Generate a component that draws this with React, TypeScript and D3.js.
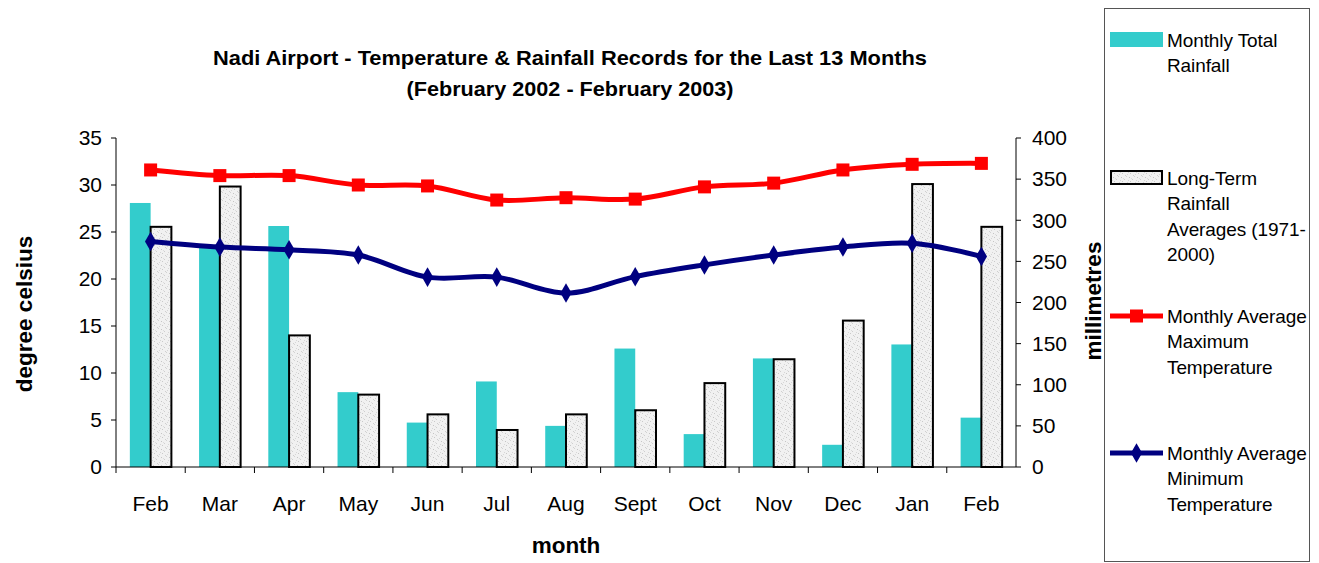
import React from "react";
import * as d3 from "d3";

const months = ["Feb", "Mar", "Apr", "May", "Jun", "Jul", "Aug", "Sept", "Oct", "Nov", "Dec", "Jan", "Feb"];
const monthlyRainfall = [321, 267, 293, 91, 54, 104, 50, 144, 40, 132, 27, 149, 60];
const longTermRainfall = [292, 341, 160, 88, 64, 45, 64, 69, 102, 131, 178, 344, 292];
const maxTemp = [31.6, 31.0, 31.0, 30.0, 29.9, 28.4, 28.65, 28.5, 29.8, 30.2, 31.6, 32.2, 32.3];
const minTemp = [24.0, 23.4, 23.1, 22.55, 20.2, 20.2, 18.5, 20.25, 21.5, 22.55, 23.4, 23.8, 22.4];
const tempTicks = [0, 5, 10, 15, 20, 25, 30, 35];
const rainTicks = [0, 50, 100, 150, 200, 250, 300, 350, 400];

const FONT = "'Liberation Sans', Arial, sans-serif";
const CYAN = "#33CCCC";
const RED = "#FF0000";
const NAVY = "#000080";

const W = 1319;
const H = 563;
const plot = { left: 116, right: 1016, top: 138, bottom: 467 };

export default function App() {
  const idx = months.map((_, i) => String(i));
  const x = d3.scaleBand<string>().domain(idx).range([plot.left, plot.right]).padding(0);
  const yT = d3.scaleLinear().domain([0, 35]).range([plot.bottom, plot.top]);
  const yR = d3.scaleLinear().domain([0, 400]).range([plot.bottom, plot.top]);
  const bw = x.bandwidth();
  const barW = bw * 0.3;
  const cx = (i: number) => (x(String(i)) as number) + bw / 2;

  const line = (vals: number[]) =>
    d3
      .line<number>()
      .x((_, i) => cx(i))
      .y((v) => yT(v))
      .curve(d3.curveCatmullRom.alpha(0))(vals) as string;

  const diamond = d3.symbol().type(d3.symbolDiamond).size(110)() as string;

  const speckles: [number, number, number][] = [
    [1, 1, 0.5], [4, 3, 0.4], [6, 0, 0.35], [2, 5, 0.45], [7, 6, 0.3], [5, 7, 0.4], [0, 4, 0.3], [3, 2, 0.25],
  ];

  const legendItems = [
    { y: 40, lines: ["Monthly Total", "Rainfall"], kind: "cyan" },
    { y: 178, lines: ["Long-Term", "Rainfall", "Averages (1971-", "2000)"], kind: "pattern" },
    { y: 316, lines: ["Monthly Average", "Maximum", "Temperature"], kind: "red" },
    { y: 453, lines: ["Monthly Average", "Minimum", "Temperature"], kind: "navy" },
  ];

  return (
    <svg width={W} height={H} style={{ position: "absolute", left: 0, top: 0, background: "#fff" }} fontFamily={FONT}>
      <defs>
        <pattern id="speck" width="8" height="8" patternUnits="userSpaceOnUse">
          <rect width="8" height="8" fill="#f1f1f1" />
          {speckles.map(([px, py, o], i) => (
            <rect key={i} x={px} y={py} width={1} height={1} fill="#9a9a9a" opacity={o} />
          ))}
        </pattern>
      </defs>
      <rect width={W} height={H} fill="#fff" />

      {/* Title */}
      <text x={570} y={65} textAnchor="middle" fontSize={20.5} fontWeight="bold" textLength={714} lengthAdjust="spacingAndGlyphs">
        Nadi Airport - Temperature &amp; Rainfall Records for the Last 13 Months
      </text>
      <text x={570} y={96} textAnchor="middle" fontSize={20.5} fontWeight="bold" textLength={327} lengthAdjust="spacingAndGlyphs">
        (February 2002 - February 2003)
      </text>

      {/* Bars */}
      {monthlyRainfall.map((v, i) => (
        <rect key={"r" + i} x={cx(i) - barW} y={yR(v)} width={barW} height={plot.bottom - yR(v)} fill={CYAN} />
      ))}
      {longTermRainfall.map((v, i) => (
        <rect
          key={"l" + i}
          x={cx(i)}
          y={yR(v)}
          width={barW}
          height={plot.bottom - yR(v)}
          fill="url(#speck)"
          stroke="#000"
          strokeWidth={2}
        />
      ))}

      {/* Lines */}
      <path d={line(maxTemp)} fill="none" stroke={RED} strokeWidth={5} />
      {maxTemp.map((v, i) => (
        <rect key={"m" + i} x={cx(i) - 6.5} y={yT(v) - 6.5} width={13} height={13} fill={RED} />
      ))}
      <path d={line(minTemp)} fill="none" stroke={NAVY} strokeWidth={5} />
      {minTemp.map((v, i) => (
        <path key={"n" + i} d={diamond} transform={`translate(${cx(i)},${yT(v)})`} fill={NAVY} />
      ))}

      {/* Left axis */}
      <line x1={plot.left} x2={plot.left} y1={plot.top} y2={plot.bottom} stroke="#000" strokeWidth={1} />
      {tempTicks.map((t) => (
        <g key={"t" + t}>
          <line x1={plot.left - 5} x2={plot.left} y1={yT(t)} y2={yT(t)} stroke="#000" />
          <text x={plot.left - 14} y={yT(t)} dy="0.35em" textAnchor="end" fontSize={21}>
            {t}
          </text>
        </g>
      ))}
      {/* Right axis */}
      <line x1={plot.right} x2={plot.right} y1={plot.top} y2={plot.bottom} stroke="#000" strokeWidth={1} />
      {rainTicks.map((t) => (
        <g key={"rt" + t}>
          <line x1={plot.right} x2={plot.right + 5} y1={yR(t)} y2={yR(t)} stroke="#000" />
          <text x={plot.right + 16} y={yR(t)} dy="0.35em" textAnchor="start" fontSize={21}>
            {t}
          </text>
        </g>
      ))}
      {/* X axis */}
      <line x1={plot.left} x2={plot.right} y1={plot.bottom} y2={plot.bottom} stroke="#000" strokeWidth={1} />
      {idx.map((k, i) => (
        <line
          key={"xt" + i}
          x1={x(k) as number}
          x2={x(k) as number}
          y1={plot.bottom}
          y2={plot.bottom + 6}
          stroke="#000"
        />
      ))}
      {months.map((m, i) => (
        <text key={"xl" + i} x={cx(i)} y={511} textAnchor="middle" fontSize={21}>
          {m}
        </text>
      ))}

      {/* Axis titles */}
      <text x={566} y={553} textAnchor="middle" fontSize={22.5} fontWeight="bold">
        month
      </text>
      <text transform="translate(32,314) rotate(-90)" textAnchor="middle" fontSize={22.5} fontWeight="bold">
        degree celsius
      </text>
      <text transform="translate(1101,301) rotate(-90)" textAnchor="middle" fontSize={22.5} fontWeight="bold">
        millimetres
      </text>

      {/* Legend */}
      <rect x={1104.5} y={8.5} width={205} height={553} fill="#fff" stroke="#555" strokeWidth={1} />
      {legendItems.map((it, k) => (
        <g key={"lg" + k}>
          {it.kind === "cyan" && <rect x={1110} y={it.y - 8} width={53} height={15} fill={CYAN} />}
          {it.kind === "pattern" && (
            <rect x={1111} y={it.y - 7} width={51} height={13} fill="url(#speck)" stroke="#000" strokeWidth={2} />
          )}
          {it.kind === "red" && (
            <g>
              <line x1={1110} x2={1163} y1={it.y} y2={it.y} stroke={RED} strokeWidth={5} />
              <rect x={1130} y={it.y - 6.5} width={13} height={13} fill={RED} />
            </g>
          )}
          {it.kind === "navy" && (
            <g>
              <line x1={1110} x2={1163} y1={it.y} y2={it.y} stroke={NAVY} strokeWidth={5} />
              <path d={diamond} transform={`translate(1136.5,${it.y})`} fill={NAVY} />
            </g>
          )}
          {it.lines.map((l, j) => (
            <text key={j} x={1167} y={it.y + j * 25.5} dy="0.35em" fontSize={19} letterSpacing={-0.1}>
              {l}
            </text>
          ))}
        </g>
      ))}
    </svg>
  );
}
